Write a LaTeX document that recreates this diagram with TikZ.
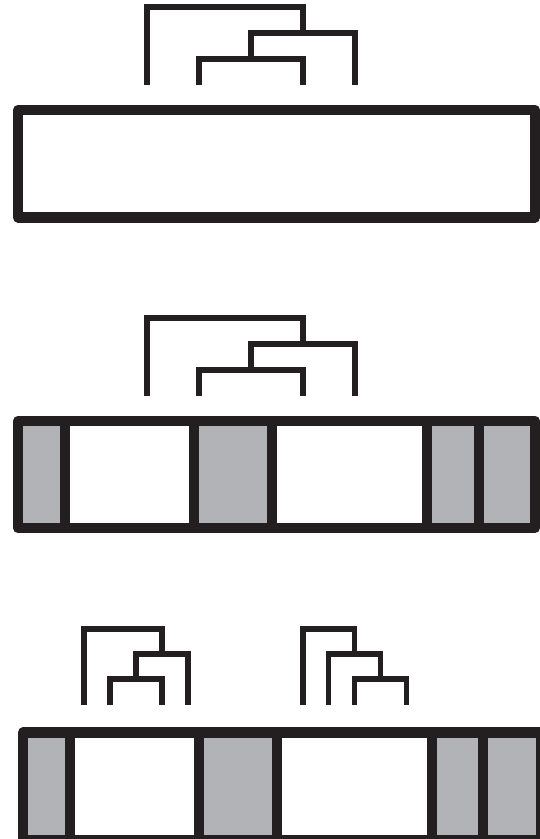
\documentclass[tikz,border=0pt]{standalone}
\usepackage{tikz}
\definecolor{ink}{RGB}{35,31,32}
\definecolor{cellgrey}{RGB}{178,179,183}

\begin{document}
\begin{tikzpicture}[
    x=1pt, y=-1pt,
    link/.style  = {draw=ink, line width=5.3pt, line cap=butt, line join=miter},
    frame/.style = {draw=ink, line width=10.5pt, line join=round},
    gcell/.style = {frame, fill=cellgrey},
    wcell/.style = {frame, fill=white}
]
\useasboundingbox (0,0) rectangle (539,839);

% Top tree
\coordinate (a1) at (147,85);
\coordinate (a2) at (199,85);
\coordinate (a3) at (303,85);
\coordinate (a4) at (355,85);
\coordinate (a23)   at (251,59);
\coordinate (a234)  at (303,33);
\coordinate (aroot) at (225,7);
\draw [link] (a2) |- (a23) -| (a3);
\draw [link] (a23) |- (a234) -| (a4);
\draw [link] (a1) |- (aroot) -| (a234);

% Top box
\draw [frame, fill=white] (18,110) rectangle (535,217.5);

% Middle tree
\coordinate (b1) at (147,396);
\coordinate (b2) at (199,396);
\coordinate (b3) at (303,396);
\coordinate (b4) at (355,396);
\coordinate (b23)   at (251,370);
\coordinate (b234)  at (303,344);
\coordinate (broot) at (225,318);
\draw [link] (b2) |- (b23) -| (b3);
\draw [link] (b23) |- (b234) -| (b4);
\draw [link] (b1) |- (broot) -| (b234);

% Middle box
\foreach \l/\r/\s in {18/65/gcell, 65/194/wcell, 194/272/gcell, 272/427/wcell, 427/479/gcell, 479/535/gcell}
  \draw [\s] (\l,421) rectangle (\r,528);

% Bottom left tree
\coordinate (c1) at (84,705);
\coordinate (c2) at (110,705);
\coordinate (c3) at (162,705);
\coordinate (c4) at (188,705);
\coordinate (c23)   at (136,679);
\coordinate (c234)  at (162,654);
\coordinate (croot) at (123,629);
\draw [link] (c2) |- (c23) -| (c3);
\draw [link] (c23) |- (c234) -| (c4);
\draw [link] (c1) |- (croot) -| (c234);

% Bottom right tree
\coordinate (d1) at (303,705);
\coordinate (d2) at (328.5,705);
\coordinate (d3) at (354.5,705);
\coordinate (d4) at (406.5,705);
\coordinate (d34)   at (380.5,679);
\coordinate (d234)  at (354.5,654);
\coordinate (droot) at (329,629);
\draw [link] (d3) |- (d34) -| (d4);
\draw [link] (d2) |- (d234) -| (d34);
\draw [link] (d1) |- (droot) -| (d234);

% Bottom box
\foreach \l/\r/\s in {23/70/gcell, 70/199/wcell, 199/277/gcell, 277/432/wcell, 432/483/gcell, 483/541/gcell}
  \draw [\s] (\l,732.5) rectangle (\r,840);

\end{tikzpicture}
\end{document}
